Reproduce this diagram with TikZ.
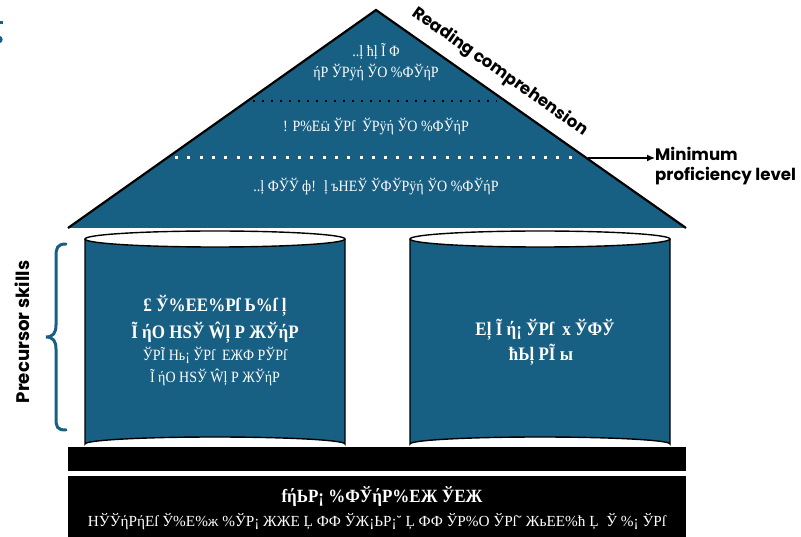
\documentclass[tikz,border=0pt]{standalone}
\usepackage{fontspec}
\setmainfont{Liberation Serif}
\newfontfamily\labfont{Poppins}
\usetikzlibrary{arrows.meta}
\definecolor{housefill}{HTML}{175F83}
\tikzset{
  glyph/.style={text=white, font=\fontsize{14}{16}\selectfont, inner sep=0pt, anchor=center},
  glyphbold/.style={text=white, font=\bfseries\fontsize{17}{19}\selectfont, inner sep=0pt, anchor=center},
  lab/.style={text=black, font=\labfont\bfseries\fontsize{16.6}{19}\selectfont, inner sep=0pt},
  edge/.style={draw=black, line width=2.2pt, line join=miter},
  cyl/.style={fill=housefill, draw=black, line width=1.4pt},
  lid/.style={fill=white, draw=black, line width=1.4pt},
}
\begin{document}
\begin{tikzpicture}[x=1pt,y=-1pt]
\useasboundingbox (0,0) rectangle (801,537);
% corner fragment
\fill[housefill] (0,21) rectangle (2.5,24.5);
\fill[housefill] (0,36) .. controls (3.5,36.5) and (3.5,42.5) .. (0,43) -- cycle;
% roof
\coordinate (apex) at (376,10);
\coordinate (bl) at (68,228);
\coordinate (br) at (686,228);
\fill[housefill] (bl) -- (apex) -- (br) -- cycle;
\draw[edge] (bl) -- (apex) -- (br);
% dotted levels
\draw[black, line width=1.8pt, dash pattern=on 1.8pt off 7.2pt] (253,101) -- (497,101);
\draw[white, line width=3pt, dash pattern=on 3pt off 9.3pt] (175,158) -- (578,158);
% roof texts
\node[glyph] (t1) at (376,52) {\scalebox{1}[1.12]{..ļ ћļ Ĩ Φ}};
\node[glyph] (t2) at (376,73) {\scalebox{1}[1.12]{ήР ЎРÿή ЎО \%ФЎήР}};
\node[glyph] (t3) at (376,127) {\scalebox{1}[1.12]{! Р\%Еӹ ЎРſ \ ЎРÿή ЎО \%ФЎήР}};
\node[glyph] (t4) at (376,187) {\scalebox{1}[1.12]{..ļ ФЎЎ ф! \ ļ ъНЕЎ ЎФЎРÿή ЎО \%ФЎήР}};
% reading comprehension
\node[lab, rotate=-35.2] (rc) at (500,72) {Reading comprehension};
% minimum proficiency
\coordinate (mpstart) at (588,158);
\node[lab, anchor=west, align=left, font=\labfont\bfseries\fontsize{16.6}{20}\selectfont] (mp) at (655,166) {Minimum\\proficiency level};
\draw[black, line width=1.3pt, -{Latex[length=8pt,width=7pt]}] (mpstart) -- (mp.west |- mpstart);
% left cylinder
\path[cyl] (85,239) -- (85,444) arc[start angle=180, end angle=360, x radius=130, y radius=7] -- (345,239);
\path[lid] (215,239) ellipse[x radius=130, y radius=8];
\node[glyphbold] (l1) at (215,306) {\scalebox{1}[1.12]{£ Ў\%ЕЕ\%Рſ Ь\%ſ ļ}};
\node[glyphbold] (l2) at (215,333) {\scalebox{1}[1.12]{Ĩ ήО НЅЎ Ŵļ Р ЖЎήР}};
\node[glyph] (l3) at (215,355) {\scalebox{1}[1.12]{ЎРĨ Нь¡ ЎРſ \ ЕЖФ РЎРſ}};
\node[glyph] (l4) at (215,377) {\scalebox{1}[1.12]{Ĩ ήО НЅЎ Ŵļ Р ЖЎήР}};
% right cylinder
\path[cyl] (410,239) -- (410,444) arc[start angle=180, end angle=360, x radius=130, y radius=7] -- (670,239);
\path[lid] (540,239) ellipse[x radius=130, y radius=8];
\node[glyphbold] (r1) at (545,330) {\scalebox{1}[1.12]{Еļ Ĩ ή¡ ЎРſ \ х ЎФЎ}};
\node[glyphbold] (r2) at (541,355) {\scalebox{1}[1.12]{ћЬļ РĨ ы}};
% platform and base
\fill[black] (68,447) rectangle (686,471);
\fill[black] (68,476) rectangle (686,537);
\node[glyphbold, font=\bfseries\fontsize{17}{19}\selectfont] (b1) at (382,497) {\scalebox{1}[1.1]{fήЬР¡ \%ФЎήР\%ЕЖ ЎЕЖ}};
\node[glyph, font=\fontsize{14}{16}\selectfont] (b2) at (377,522) {\scalebox{1.09}[1.1]{НЎЎήРήЕſ Ў\%Е\%ж \%ЎР¡ ЖЖЕ Ļ ФФ ЎЖ¡ЬР¡˘ Ļ ФФ ЎР\%О ЎРſ˘ ЖьЕЕ\%ћ Ļ \ Ў \%¡ ЎРſ}};
% brace
\draw[housefill, line width=3pt, line cap=round] (66,244) .. controls (57,244) and (56,248) .. (56,257) -- (56,325) .. controls (56,333) and (53,337) .. (46,337) .. controls (53,337) and (56,341) .. (56,349) -- (56,418) .. controls (56,427) and (57,430) .. (66,430);
\node[lab, rotate=90, font=\labfont\bfseries\fontsize{18.2}{20}\selectfont] (ps) at (22,332) {Precursor skills};
\end{tikzpicture}
\end{document}
